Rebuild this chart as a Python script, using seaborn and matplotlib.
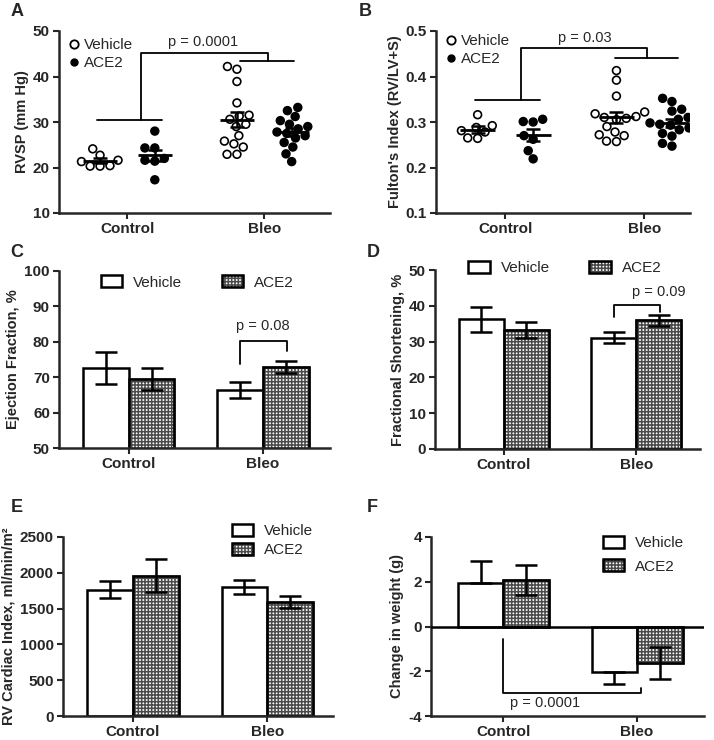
import numpy as np
import pandas as pd
import matplotlib
matplotlib.use("Agg")
import matplotlib.pyplot as plt
import seaborn as sns
from matplotlib.patches import Patch, Rectangle
from matplotlib.lines import Line2D
from matplotlib.legend_handler import HandlerTuple

groups = ["Control", "Bleo"]
treatments = ["Vehicle", "ACE2"]

# A: RVSP (mm Hg), individual animals
rvsp_ctrl_veh = [24.1, 22.7, 21.6, 21.3, 20.3, 20.3, 20.4]
rvsp_ctrl_ace2 = [28.0, 24.3, 24.3, 22.0, 21.6, 21.4, 17.3]
rvsp_bleo_veh = [42.2, 41.6, 38.9, 34.2, 31.5, 31.3, 30.6, 29.5, 29.0, 27.0,
                 25.8, 25.2, 24.5, 22.9, 22.9]
rvsp_bleo_ace2 = [33.2, 32.5, 31.2, 30.3, 29.5, 29.0, 28.5, 27.8, 27.5, 27.0,
                  26.5, 25.5, 24.5, 23.0, 21.3]

# B: Fulton's index
fulton_ctrl_veh = [0.316, 0.292, 0.288, 0.281, 0.278, 0.265, 0.264]
fulton_ctrl_ace2 = [0.306, 0.301, 0.300, 0.270, 0.262, 0.237, 0.219]
fulton_bleo_veh = [0.413, 0.392, 0.357, 0.322, 0.318, 0.312, 0.310, 0.308,
                   0.305, 0.290, 0.278, 0.272, 0.270, 0.258, 0.257]
fulton_bleo_ace2 = [0.352, 0.345, 0.328, 0.324, 0.310, 0.306, 0.298, 0.295,
                    0.293, 0.287, 0.283, 0.275, 0.269, 0.253, 0.247]

# C-F: mean and SEM, order = groups
ef_mean_veh, ef_sem_veh = [72.7, 66.4], [4.5, 2.3]
ef_mean_ace2, ef_sem_ace2 = [69.5, 73.0], [3.0, 1.7]
fs_mean_veh, fs_sem_veh = [36.3, 31.1], [3.5, 1.6]
fs_mean_ace2, fs_sem_ace2 = [33.2, 35.9], [2.3, 1.5]
ci_mean_veh, ci_sem_veh = [1766, 1803], [115, 93]
ci_mean_ace2, ci_sem_ace2 = [1960, 1593], [230, 80]
wt_mean_veh, wt_sem_veh = [1.96, -2.03], [0.97, 0.55]
wt_mean_ace2, wt_sem_ace2 = [2.07, -1.62], [0.66, 0.72]

sns.set_style("ticks")
plt.rcParams["font.family"] = ["Liberation Sans", "DejaVu Sans"]
plt.rcParams["axes.unicode_minus"] = False
plt.rcParams["hatch.linewidth"] = 1.1

HATCH = "+++++"
HATCH_COLOR = "#4a4a4a"

W, H = 714, 740
fig = plt.figure(figsize=(W / 100, H / 100), dpi=100)


def make_ax(left, top, right, bottom):
    ax = fig.add_axes([left / W, 1 - bottom / H, (right - left) / W, (bottom - top) / H])
    sns.despine(ax=ax)
    for s in ("left", "bottom"):
        ax.spines[s].set_linewidth(1.8)
    ax.tick_params(axis="both", width=1.5, length=4.5, pad=2)
    return ax


def style_ticks(ax, ylabel, yticks):
    ax.set_yticks(yticks)
    ax.set_ylim(yticks[0], yticks[-1])
    ax.set_xlabel("")
    ax.set_ylabel(ylabel, fontsize=10.5, fontweight="bold", labelpad=3)
    ax.set_xticks([0, 1])
    ax.set_xticklabels(groups, fontsize=11, fontweight="bold")
    for lab in ax.get_yticklabels():
        lab.set_fontweight("bold")
        lab.set_fontsize(11)


def scatter_panel(ax, values, ylabel, yticks, legend_y):
    rows = []
    for (g, t), vals in values.items():
        rows += [{"group": g, "treatment": t, "value": v} for v in vals]
    df = pd.DataFrame(rows)
    sns.swarmplot(data=df, x="group", y="value", hue="treatment", order=groups,
                  hue_order=treatments, dodge=True,
                  palette={"Vehicle": "white", "ACE2": "black"},
                  edgecolor="black", linewidth=1.2, size=5.6, legend=False, ax=ax)
    for (g, t), vals in values.items():
        x = groups.index(g) + (-0.2 if t == "Vehicle" else 0.2)
        v = np.array(vals)
        m, se = v.mean(), v.std(ddof=1) / np.sqrt(len(v))
        ax.hlines(m, x - 0.125, x + 0.125, color="black", lw=2, zorder=4)
        ax.errorbar(x, m, yerr=se, fmt="none", ecolor="black", elinewidth=1.8,
                    capsize=5, capthick=1.8, zorder=4)
    style_ticks(ax, ylabel, yticks)
    handles = [Line2D([], [], marker="o", ls="none", mfc="white", mec="black", mew=1.3, ms=6),
               Line2D([], [], marker="o", ls="none", mfc="black", mec="black", ms=5)]
    ax.legend(handles, treatments, loc="upper left", bbox_to_anchor=(0.0, legend_y),
              frameon=False, fontsize=11, handlelength=0.6, handletextpad=0.35,
              labelspacing=0.25, borderaxespad=0.3)


def bar_panel(ax, mveh, sveh, mace, sace, ylabel, yticks, one_sided=False):
    df = pd.DataFrame({"group": groups * 2,
                       "treatment": ["Vehicle"] * 2 + ["ACE2"] * 2,
                       "mean": mveh + mace, "sem": sveh + sace})
    sns.barplot(data=df, x="group", y="mean", hue="treatment", order=groups,
                hue_order=treatments, palette={"Vehicle": "white", "ACE2": "white"},
                edgecolor="black", linewidth=1.8, width=0.68, errorbar=None,
                legend=False, ax=ax)
    for cont, t in zip(ax.containers, treatments):
        sub = df[df.treatment == t]
        for bar, (_, row) in zip(cont, sub.iterrows()):
            if t == "ACE2":
                # grey checker fill, black outline drawn on top
                bar.set_edgecolor(HATCH_COLOR)
                bar.set_hatch(HATCH)
                ax.add_patch(Rectangle(bar.get_xy(), bar.get_width(), bar.get_height(),
                                       fill=False, edgecolor="black", lw=1.8, zorder=2.5))
            x = bar.get_x() + bar.get_width() / 2
            m, s = row["mean"], row["sem"]
            if one_sided and t == "Vehicle":
                yerr = [[0], [s]] if m > 0 else [[s], [0]]
            else:
                yerr = s
            ax.errorbar(x, m, yerr=yerr, fmt="none", ecolor="black", elinewidth=1.8,
                        capsize=8, capthick=1.8, zorder=4)
    style_ticks(ax, ylabel, yticks)


def bar_legend(ax, ncol, anchor, spacing=0.5):
    veh = Patch(facecolor="white", edgecolor="black", lw=1.8)
    ace = (Patch(facecolor="white", edgecolor=HATCH_COLOR, hatch=HATCH),
           Patch(fill=False, edgecolor="black", lw=1.8))
    ax.legend([veh, ace], treatments, ncol=ncol, loc="center", bbox_to_anchor=anchor,
              frameon=False, fontsize=11, handlelength=1.4, handleheight=0.8,
              handletextpad=0.7, columnspacing=2.6, labelspacing=spacing,
              handler_map={tuple: HandlerTuple(ndivide=1, pad=0)})


def bracket(ax, xs, ys):
    ax.plot(xs, ys, color="black", lw=1.3, clip_on=False, zorder=5)


# A
axA = make_ax(59, 31, 330, 213)
scatter_panel(axA, {("Control", "Vehicle"): rvsp_ctrl_veh, ("Control", "ACE2"): rvsp_ctrl_ace2,
                    ("Bleo", "Vehicle"): rvsp_bleo_veh, ("Bleo", "ACE2"): rvsp_bleo_ace2},
              "RVSP (mm Hg)", [10, 20, 30, 40, 50], 1.02)
axA.set_xlim(-0.5, 1.48)
bracket(axA, [-0.22, 0.25], [30.5, 30.5])
bracket(axA, [0.1, 0.1, 1.03, 1.03], [30.5, 45.2, 45.2, 43.3])
bracket(axA, [0.82, 1.22], [43.3, 43.3])
axA.text(0.55, 47.6, "p = 0.0001", ha="center", va="center", fontsize=10.5)

# B
axB = make_ax(436, 31, 690, 213)
scatter_panel(axB, {("Control", "Vehicle"): fulton_ctrl_veh, ("Control", "ACE2"): fulton_ctrl_ace2,
                    ("Bleo", "Vehicle"): fulton_bleo_veh, ("Bleo", "ACE2"): fulton_bleo_ace2},
              "Fulton's Index (RV/LV+S)", [0.1, 0.2, 0.3, 0.4, 0.5], 1.04)
axB.set_xlim(-0.5, 1.33)
bracket(axB, [-0.22, 0.25], [0.348, 0.348])
bracket(axB, [0.11, 0.11, 1.02, 1.02], [0.348, 0.463, 0.463, 0.441])
bracket(axB, [0.79, 1.245], [0.441, 0.441])
axB.text(0.57, 0.484, "p = 0.03", ha="center", va="center", fontsize=10.5)

# C
axC = make_ax(59, 271, 330, 448)
bar_panel(axC, ef_mean_veh, ef_sem_veh, ef_mean_ace2, ef_sem_ace2,
          "Ejection Fraction, %", [50, 60, 70, 80, 90, 100])
axC.set_xlim(-0.52, 1.5)
bar_legend(axC, 2, (0.51, 0.935))
bracket(axC, [0.83, 0.83, 1.18, 1.18], [73.7, 80.3, 80.3, 77.4])
axC.text(1.0, 84.5, "p = 0.08", ha="center", va="center", fontsize=10.5)

# D
axD = make_ax(435, 270, 700, 449)
bar_panel(axD, fs_mean_veh, fs_sem_veh, fs_mean_ace2, fs_sem_ace2,
          "Fractional Shortening, %", [0, 10, 20, 30, 40, 50])
axD.set_xlim(-0.52, 1.48)
bar_legend(axD, 2, (0.49, 1.01))
bracket(axD, [0.83, 0.83, 1.18, 1.18], [36.8, 40.2, 40.2, 38.3])
axD.text(1.17, 43.9, "p = 0.09", ha="center", va="center", fontsize=10.5)

# E
axE = make_ax(63, 537, 333, 716)
bar_panel(axE, ci_mean_veh, ci_sem_veh, ci_mean_ace2, ci_sem_ace2,
          "RV Cardiac Index, ml/min/m²", [0, 500, 1000, 1500, 2000, 2500])
axE.set_xlim(-0.52, 1.49)
bar_legend(axE, 1, (0.775, 0.98), spacing=0.3)

# F
axF = make_ax(431, 537, 704, 716)
bar_panel(axF, wt_mean_veh, wt_sem_veh, wt_mean_ace2, wt_sem_ace2,
          "Change in weight (g)", [-4, -2, 0, 2, 4], one_sided=True)
axF.set_xlim(-0.54, 1.5)
axF.axhline(0, color="black", lw=1.8, zorder=3)
bar_legend(axF, 1, (0.777, 0.90), spacing=0.6)
bracket(axF, [0.0, 0.0, 1.03, 1.03], [-0.58, -2.95, -2.95, -2.73])
axF.text(0.31, -3.41, "p = 0.0001", ha="center", va="center", fontsize=10.5)

for lab, (x, y) in zip("ABCDEF", [(17, 11), (365, 11), (17, 253), (373, 252), (17, 507), (372, 507)]):
    fig.text(x / W, 1 - y / H, lab, ha="center", va="center", fontsize=13, fontweight="bold")

fig.savefig("out.png", dpi=100)
